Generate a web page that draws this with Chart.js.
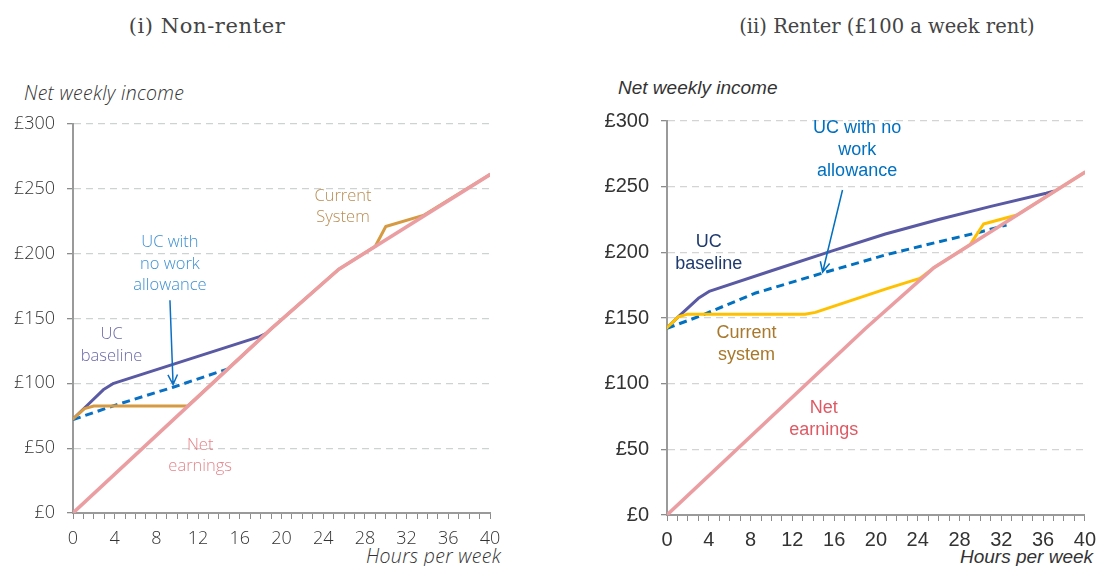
<!DOCTYPE html>
<html>
<head>
<meta charset="utf-8">
<script src="https://cdn.jsdelivr.net/npm/chart.js@4.4.1/dist/chart.umd.min.js"></script>
<style>
  body { margin: 0; background: #fff; }
  #page { position: relative; width: 1103px; height: 566px; overflow: hidden; }
  canvas { position: absolute; top: 0; }
  .title { position: absolute; transform: translateX(-50%); font-family: "DejaVu Serif", serif; color: #444; white-space: nowrap; }
  .axis { position: absolute; font-style: italic; color: #333; white-space: nowrap; }
  .left { font-family: "Open Sans", Lato, sans-serif; font-weight: 300; font-size: 19.5px; letter-spacing: 0.3px; }
  .right { font-family: "Liberation Sans", Arial, sans-serif; font-size: 19px; }
</style>
</head>
<body>
<div id="page">
  <div class="title" style="left:207px; top:14px; font-size:21px; letter-spacing:0.6px">(i) Non-renter</div>
  <div class="title" style="left:887px; top:15px; font-size:19.5px">(ii) Renter (£100 a week rent)</div>
  <div class="axis left" style="left:24px; top:79px">Net weekly income</div>
  <div class="axis left" style="left:366px; top:542px">Hours per week</div>
  <div class="axis right" style="left:618px; top:77px">Net weekly income</div>
  <div class="axis right" style="left:960px; top:546px">Hours per week</div>
  <canvas id="chart-left" width="551" height="566" style="left:0"></canvas>
  <canvas id="chart-right" width="513" height="566" style="left:590px"></canvas>
</div>
<script>
// Hour ticks and income ticks
const hourTicks = { min: 0, max: 40, step: 1, labelEvery: 4 };
const incomeTicks = { min: 0, max: 300, step: 50 };

// Net earnings (same in both panels)
const netHours = [0, 19, 25.5, 40];
const netIncome = [0, 142, 188, 261];

// (i) Non-renter
const nrBaselineHours = [0, 1.1, 2.9, 3.9, 17.9, 18.4];
const nrBaselineIncome = [72.5, 81, 95, 100, 136, 138];
const nrCurrentHours = [0, 1.1, 2, 11, 19, 25.5, 29, 30, 33.6, 40];
const nrCurrentIncome = [72.5, 80.5, 82.5, 82.5, 142, 188, 205.7, 221, 229.5, 261];
const nrNoWorkHours = [0, 4, 9.6, 14.8];
const nrNoWorkIncome = [72, 83, 97, 111];

// (ii) Renter
const rBaselineHours = [0, 1.1, 3, 4.1, 10, 15.6, 20.9, 26, 31, 36.3, 37];
const rBaselineIncome = [142.6, 151, 165, 170.5, 186, 200.5, 214, 225, 235, 245, 246.5];
const rCurrentHours = [0, 1.1, 1.9, 13.2, 14.2, 20.9, 24.2, 25.5, 29, 30.3, 33.5, 40];
const rCurrentIncome = [142.6, 151, 152.8, 152.8, 154.3, 172, 180.2, 188, 205.7, 221.6, 228.4, 261];
const rNoWorkHours = [0, 3, 8.4, 14.8, 20.9, 26, 30.1, 32.5];
const rNoWorkIncome = [142.2, 151, 168.8, 184, 198, 208, 215.7, 220.8];

function toPoints(hours, income) {
  return hours.map((h, i) => ({ x: h, y: income[i] }));
}

// draws the text labels and arrows, placed in data units
const notesPlugin = {
  id: "notes",
  afterDatasetsDraw(chart, args, opts) {
    const ctx = chart.ctx;
    const xs = chart.scales.x, ys = chart.scales.y;
    ctx.save();
    (opts.labels || []).forEach(l => {
      ctx.font = opts.font;
      ctx.fillStyle = l.color;
      ctx.textAlign = "center";
      ctx.textBaseline = "middle";
      const cx = xs.getPixelForValue(l.x);
      const cy = ys.getPixelForValue(l.y);
      const top = cy - (l.lines.length - 1) * opts.lineHeight / 2;
      l.lines.forEach((t, i) => ctx.fillText(t, cx, top + i * opts.lineHeight));
    });
    (opts.arrows || []).forEach(a => {
      const x1 = xs.getPixelForValue(a.from[0]), y1 = ys.getPixelForValue(a.from[1]);
      const x2 = xs.getPixelForValue(a.to[0]), y2 = ys.getPixelForValue(a.to[1]);
      const ang = Math.atan2(y2 - y1, x2 - x1);
      ctx.strokeStyle = a.color;
      ctx.lineWidth = 1.5;
      ctx.beginPath();
      ctx.moveTo(x1, y1);
      ctx.lineTo(x2, y2);
      ctx.moveTo(x2 - 11 * Math.cos(ang - 0.45), y2 - 11 * Math.sin(ang - 0.45));
      ctx.lineTo(x2, y2);
      ctx.lineTo(x2 - 11 * Math.cos(ang + 0.45), y2 - 11 * Math.sin(ang + 0.45));
      ctx.stroke();
    });
    ctx.restore();
  }
};

function makeChart(id, cfg) {
  const ctx = document.getElementById(id).getContext("2d");
  return new Chart(ctx, {
    type: "line",
    data: { datasets: cfg.datasets },
    plugins: [notesPlugin],
    options: {
      responsive: false,
      animation: false,
      events: [],
      layout: { padding: { top: cfg.top, right: cfg.right, left: 0, bottom: 0 } },
      elements: { point: { radius: 0 }, line: { tension: 0, borderCapStyle: "round", borderJoinStyle: "round" } },
      plugins: {
        legend: { display: false },
        tooltip: { enabled: false },
        notes: cfg.notes
      },
      scales: {
        x: {
          type: "linear",
          min: hourTicks.min,
          max: hourTicks.max,
          afterFit: s => { s.height = cfg.xHeight; },
          ticks: {
            stepSize: hourTicks.step,
            autoSkip: false,
            maxRotation: 0,
            padding: cfg.xPad,
            color: cfg.tickColor,
            font: cfg.tickFont,
            callback: v => (v % hourTicks.labelEvery === 0 ? String(v) : "")
          },
          grid: { drawOnChartArea: false, tickLength: 6, tickColor: "#8c8c8c", tickWidth: 1 },
          border: { color: "#9a9a9a", width: 2 }
        },
        y: {
          min: incomeTicks.min,
          max: incomeTicks.max,
          afterFit: s => { s.width = cfg.yWidth; },
          ticks: {
            stepSize: incomeTicks.step,
            padding: 12,
            color: cfg.tickColor,
            font: cfg.tickFont,
            callback: v => "£" + v
          },
          grid: { color: cfg.gridColor, lineWidth: 1.3, tickLength: 6, tickColor: "#8c8c8c", tickWidth: 1.3, tickBorderDash: [] },
          border: { color: "#9a9a9a", width: 2, dash: [7, 5] }
        }
      }
    }
  });
}

document.addEventListener("DOMContentLoaded", function () {
  makeChart("chart-left", {
    top: 124, right: 61, xHeight: 53, yWidth: 73, xPad: 9,
    tickColor: "#333",
    tickFont: { family: "'Open Sans', Lato, sans-serif", size: 18, weight: 300 },
    gridColor: "#cdd3d3",
    datasets: [
      { label: "Net earnings", data: toPoints(netHours, netIncome), borderColor: "#eb9ea2", borderWidth: 3.5, order: 0 },
      { label: "Current System", data: toPoints(nrCurrentHours, nrCurrentIncome), borderColor: "#d69a42", borderWidth: 3, order: 1 },
      { label: "UC with no work allowance", data: toPoints(nrNoWorkHours, nrNoWorkIncome), borderColor: "#0a70c4", borderWidth: 3, borderDash: [8, 5], borderCapStyle: "butt", order: 2 },
      { label: "UC baseline", data: toPoints(nrBaselineHours, nrBaselineIncome), borderColor: "#5a59a3", borderWidth: 3, order: 3 }
    ],
    notes: {
      font: "300 16.5px 'Open Sans', Lato, sans-serif",
      lineHeight: 21.5,
      labels: [
        { lines: ["Current", "System"], x: 25.9, y: 236, color: "#b98d52" },
        { lines: ["UC with", "no work", "allowance"], x: 9.3, y: 192, color: "#3c8fd2" },
        { lines: ["UC", "baseline"], x: 3.7, y: 129.5, color: "#6a69a8" },
        { lines: ["Net", "earnings"], x: 12.2, y: 44, color: "#e5858b" }
      ],
      arrows: [{ from: [9.3, 164], to: [9.6, 99], color: "#0a70c4" }]
    }
  });

  makeChart("chart-right", {
    top: 121, right: 18, xHeight: 51, yWidth: 77, xPad: 7,
    tickColor: "#333",
    tickFont: { family: "'Liberation Sans', Arial, sans-serif", size: 20 },
    gridColor: "#d4d4d4",
    datasets: [
      { label: "Net earnings", data: toPoints(netHours, netIncome), borderColor: "#eb9ea2", borderWidth: 3.5, order: 0 },
      { label: "Current system", data: toPoints(rCurrentHours, rCurrentIncome), borderColor: "#ffc000", borderWidth: 3, order: 1 },
      { label: "UC with no work allowance", data: toPoints(rNoWorkHours, rNoWorkIncome), borderColor: "#0070c0", borderWidth: 3, borderDash: [8, 5], borderCapStyle: "butt", order: 2 },
      { label: "UC baseline", data: toPoints(rBaselineHours, rBaselineIncome), borderColor: "#5a59a3", borderWidth: 3, order: 3 }
    ],
    notes: {
      font: "18px 'Liberation Sans', Arial, sans-serif",
      lineHeight: 21.5,
      labels: [
        { lines: ["UC with no", "work", "allowance"], x: 18.2, y: 278, color: "#0070c0" },
        { lines: ["UC", "baseline"], x: 4.0, y: 199.5, color: "#1f3a6e" },
        { lines: ["Current", "system"], x: 7.6, y: 130, color: "#a8782c" },
        { lines: ["Net", "earnings"], x: 15.0, y: 73, color: "#dd5a64" }
      ],
      arrows: [{ from: [16.8, 247.5], to: [14.9, 185], color: "#0070c0" }]
    }
  });
});
</script>
</body>
</html>
